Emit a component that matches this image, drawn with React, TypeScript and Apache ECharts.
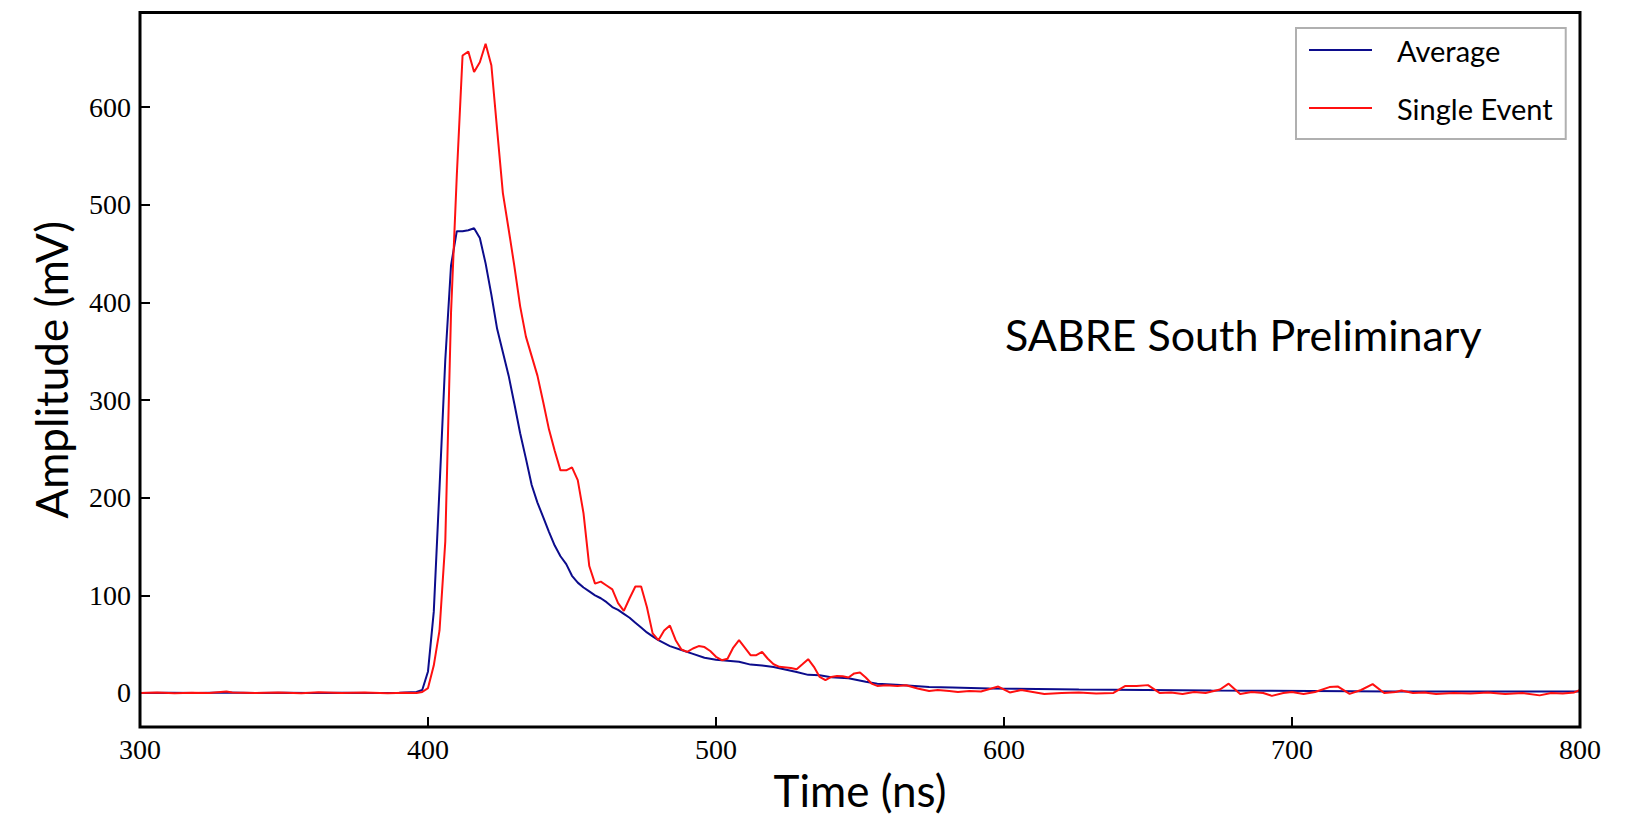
import React, { useEffect, useRef } from "react";
import * as echarts from "echarts";

// Average waveform (time in ns, amplitude in mV)
const avgTime = [300, 310, 320, 330, 340, 350, 360, 370, 380, 390, 396, 398, 400, 402, 404, 406, 408, 410, 412, 414, 416, 418, 420, 422, 424, 426, 428, 430, 432, 434, 436, 438, 440, 442, 444, 446, 448, 450, 452, 454, 456, 458, 460, 462, 464, 466, 468, 470, 472, 474, 476, 478, 480, 484, 488, 492, 496, 500, 504, 508, 512, 516, 520, 524, 528, 532, 536, 540, 546, 552, 556, 564, 574, 582, 595, 626, 672, 735, 800];
const avgAmp = [0, 0.3, 0, 0.5, 0, 0.3, 0, 0.2, 0, 0.3, 1, 3, 22, 83, 210, 341, 438, 473, 473, 474, 476, 466, 440, 408, 373, 349, 325, 296, 266, 240, 213, 195, 180, 165, 151, 140, 132, 120, 113, 108, 104, 100, 97, 93, 88, 85, 81, 77, 72, 67, 62, 58, 54, 48, 44, 40, 36, 34, 33, 32, 29, 28, 26.5, 24, 21.5, 18.5, 18, 16, 15, 11.5, 9.5, 8, 6, 5.5, 4.5, 3.5, 2.5, 1.5, 1.5];

// Single event waveform
const evtTime = [300, 306, 312, 318, 324, 330, 332, 340, 348, 356, 362, 370, 378, 386, 392, 396, 398, 400, 402, 404, 406, 408, 410, 412, 414, 416, 418, 420, 422, 424, 426, 428, 430, 432, 434, 436, 438, 440, 442, 444, 446, 448, 450, 452, 454, 456, 458, 460, 462, 464, 466, 468, 470, 472, 474, 476, 478, 480, 482, 484, 486, 488, 490, 492, 494, 496, 498, 500, 502, 504, 506, 508, 510, 512, 514, 516, 518, 520, 522, 526, 528, 530, 532, 534, 536, 538, 540, 542, 544, 546, 548, 550, 552, 554, 556, 559, 563, 566, 570, 574, 577, 581, 584, 588, 592, 598, 602, 606, 610, 614, 620, 626, 632, 638, 642, 646, 650, 654, 658, 662, 666, 670, 675, 678, 682, 686, 690, 693, 697, 700, 704, 708, 713, 716, 720, 724, 728, 732, 736, 738, 742, 746, 750, 756, 762, 768, 774, 780, 786, 790, 794, 798, 800];
const evtAmp = [0, 0.5, -0.3, 0.3, 0, 1.5, 0.5, 0, 0.5, -0.3, 0.8, 0, 0.5, -0.3, 0.3, 0, 1, 5, 28, 64, 155, 390, 530, 653, 657, 636, 646, 665, 643, 577, 512, 475, 437, 396, 365, 345, 325, 298, 270, 248, 228, 228, 231, 218, 184, 130, 112, 114, 110, 106, 92, 84, 97, 109, 109, 88, 61, 54, 64, 69, 54, 44.5, 42, 45.5, 48, 47, 43, 37, 33.5, 35, 46.5, 54, 46.5, 38.7, 38.7, 42, 35, 29.4, 26.7, 25.6, 24.3, 29.4, 34.6, 26.7, 16.4, 13, 16.4, 17.4, 17, 15.8, 20, 21, 15.8, 9.6, 7.2, 7.9, 7.2, 7.9, 4.5, 2, 3, 2, 1, 2, 1.5, 6.5, 0.5, 3, 1, -1, 0, 0.5, -0.5, 0, 7, 7, 8, 0, 0.5, -1, 1, 0, 3.5, 9.5, -1, 1, 0, -3, 0, 1, -1, 1, 6, 6.5, -1, 3, 9, 0, 1, 2.5, 0, 0.5, -1, 0, -0.5, 0.5, -1, 0, -2.5, 0, -0.5, 0.5, 3];

const xTicks = [300, 400, 500, 600, 700, 800];
const yTicks = [0, 100, 200, 300, 400, 500, 600];

const seriesNames = ["Average", "Single Event"];
const seriesColors = ["#0c0c8c", "#ff1010"];

export default function App() {
  const ref = useRef<HTMLDivElement>(null);
  useEffect(() => {
    if (!ref.current) return;
    const chart = echarts.init(ref.current, null, { renderer: "svg" });
    const serif = "'Liberation Serif', 'DejaVu Serif', serif";
    const sans = "Lato, 'Liberation Sans', sans-serif";
    chart.setOption({
      animation: false,
      backgroundColor: "#ffffff",
      grid: {
        left: 140,
        top: 12.5,
        right: 46,
        bottom: 89,
        show: true,
        borderColor: "#000",
        borderWidth: 3,
        backgroundColor: "transparent",
        z: 5,
      },
      legend: {
        orient: "vertical",
        left: 1296,
        top: 28,
        padding: [6, 13, 15, 13],
        itemGap: 26,
        itemWidth: 63,
        itemHeight: 2,
        icon: "rect",
        borderColor: "#b0b0b0",
        borderWidth: 2,
        borderRadius: 0,
        backgroundColor: "#fff",
        textStyle: {
          fontFamily: sans,
          fontSize: 29,
          color: "#000",
          lineHeight: 32,
          padding: [0, 0, 0, 20],
        },
        data: seriesNames,
      },
      xAxis: {
        type: "value",
        min: 300,
        max: 800,
        interval: 100,
        name: "Time (ns)",
        nameLocation: "middle",
        nameGap: 40,
        nameTextStyle: { fontFamily: sans, fontSize: 44, color: "#000" },
        axisLine: { show: false, onZero: false },
        axisTick: { show: true, inside: true, length: 10, lineStyle: { color: "#000", width: 2 }, customValues: xTicks },
        axisLabel: { fontFamily: serif, fontSize: 28, color: "#000", margin: 8, customValues: xTicks },
        splitLine: { show: false },
      },
      yAxis: {
        type: "value",
        min: -35,
        max: 697,
        name: "Amplitude (mV)",
        nameLocation: "middle",
        nameGap: 67,
        nameTextStyle: { fontFamily: sans, fontSize: 44, color: "#000" },
        axisLine: { show: false, onZero: false },
        axisTick: { show: true, inside: true, length: 10, lineStyle: { color: "#000", width: 2 }, customValues: yTicks },
        axisLabel: { fontFamily: serif, fontSize: 28, color: "#000", margin: 9, customValues: yTicks },
        splitLine: { show: false },
      },
      graphic: [
        {
          type: "text",
          left: 1005,
          top: 313,
          style: {
            text: "SABRE South Preliminary",
            fontFamily: sans,
            fontSize: 43,
            fill: "#000",
          },
        },
      ],
      series: [
        {
          name: seriesNames[0],
          type: "line",
          data: avgTime.map((t, i) => [t, avgAmp[i]]),
          showSymbol: false,
          symbol: "none",
          lineStyle: { color: seriesColors[0], width: 2 },
          itemStyle: { color: seriesColors[0] },
          z: 2,
        },
        {
          name: seriesNames[1],
          type: "line",
          data: evtTime.map((t, i) => [t, evtAmp[i]]),
          showSymbol: false,
          symbol: "none",
          lineStyle: { color: seriesColors[1], width: 2 },
          itemStyle: { color: seriesColors[1] },
          z: 3,
        },
      ],
    });
    return () => chart.dispose();
  }, []);
  return (
    <div
      ref={ref}
      style={{ position: "fixed", left: 0, top: 0, width: 1626, height: 817, background: "#fff" }}
    />
  );
}
